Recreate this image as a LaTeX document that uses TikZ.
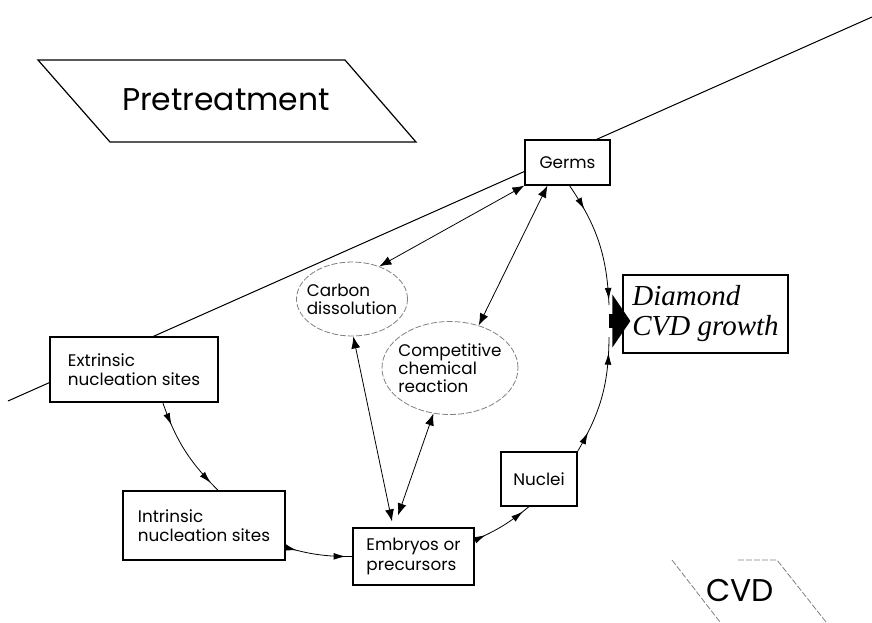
\documentclass[tikz,border=0pt]{standalone}
\usepackage{fontspec}
\setmainfont{Poppins}
\newfontfamily\timesfont{Liberation Serif}
\usetikzlibrary{arrows.meta}
\usetikzlibrary{decorations.markings}
\usetikzlibrary{shapes.geometric}
\tikzset{>={Latex[length=6pt,width=4.5pt]}}
\tikzset{
  flow/.style 2 args={postaction={decorate, decoration={markings,
      mark=at position #1 with {\arrow{Latex[length=6pt,width=3.4pt]}},
      mark=at position #2 with {\arrow{Latex[length=6pt,width=3.4pt]}}}}},
  site/.style={draw, fill=white, line width=0.6pt, align=left, inner ysep=2pt,
      font=\fontsize{8.4}{9.6}\selectfont},
  bubble/.style={ellipse, draw=gray, dash pattern=on 3pt off 1pt, fill=white,
      line width=0.4pt, inner sep=-4pt, align=left, font=\fontsize{8.4}{9}\selectfont},
  stage/.style={font=\fontsize{15.7}{18}\selectfont},
  ghost/.style={draw=gray, dash pattern=on 3pt off 1pt, line width=0.4pt},
}

\begin{document}
\begin{tikzpicture}[x=0.5pt,y=0.5pt]
\useasboundingbox (0,0) rectangle (872,-622);
% stage borders
\draw[line width=0.5pt] (8,-401) -- (872,-17);
\draw[line width=0.6pt] (38,-60) -- (345,-60) -- (416,-142) -- (110,-142) -- cycle;
\node[stage] (pretreat) at (226,-100) {Pretreatment};
\draw[ghost] (672,-560) -- (720,-622);
\draw[ghost] (738,-560) -- (777,-560) -- (826,-622);
\node[stage] (cvd) at (740,-590) {CVD};

% boxes
\node[site, minimum width=84pt, minimum height=32.5pt] (extr) at (134,-369.5) {Extrinsic\\nucleation sites};
\node[site, minimum width=81pt, minimum height=34.5pt] (intr) at (204,-525.5) {Intrinsic\\nucleation sites};
\node[site, minimum width=60.5pt, minimum height=28.5pt] (embr) at (413.5,-556.5) {Embryos or\\precursors};
\node[site, align=center, minimum width=38pt, minimum height=27pt] (nucl) at (539,-479) {Nuclei};
\node[site, align=center, minimum width=42.5pt, minimum height=22.5pt] (germs) at (567.5,-162.5) {Germs};
\node[site, minimum width=82.5pt, minimum height=39pt,
      font=\timesfont\itshape\fontsize{14.5}{15}\selectfont] (diamond) at (705.5,-314) {Diamond\\CVD growth};
\node[bubble, minimum width=55.5pt, minimum height=37pt] (carbon) at (352,-299) {Carbon\\dissolution};
\node[bubble, minimum width=68pt, minimum height=46.5pt] (comp) at (450,-368) {Competitive\\chemical\\reaction};
\coordinate (junc) at (609,-321);

% growth loop
\draw[flow={0.23}{0.9}] (extr.-49) to[bend right=13] (intr.68);
\draw[flow={0.17}{0.9}] (intr.-15) to[bend right=8] (embr.west);
\draw[flow={0.19}{0.88}] (embr.15) to[bend right=8] (nucl.250);
\draw[flow={0.18}{0.87}] (nucl.north east) to[bend right=15] ([yshift=-8pt]junc);
\draw[flow={0.22}{0.96}] (germs.-85) to[bend left=16] ([yshift=8pt]junc);
\draw[line width=7pt, -{Triangle[length=9pt,width=26pt]}, shorten >=-4pt] (junc) -- (junc -| diamond.west);

% exchanges
\draw[<->] (germs.south west) -- (carbon.50);
\draw[<->] (germs.229) -- (comp.56);
\draw[<->] (carbon.-88) -- ([xshift=-10.75pt,yshift=3pt]embr.north);
\draw[<->] (comp.250) -- ([xshift=-7.75pt,yshift=6pt]embr.north);
\end{tikzpicture}
\end{document}
